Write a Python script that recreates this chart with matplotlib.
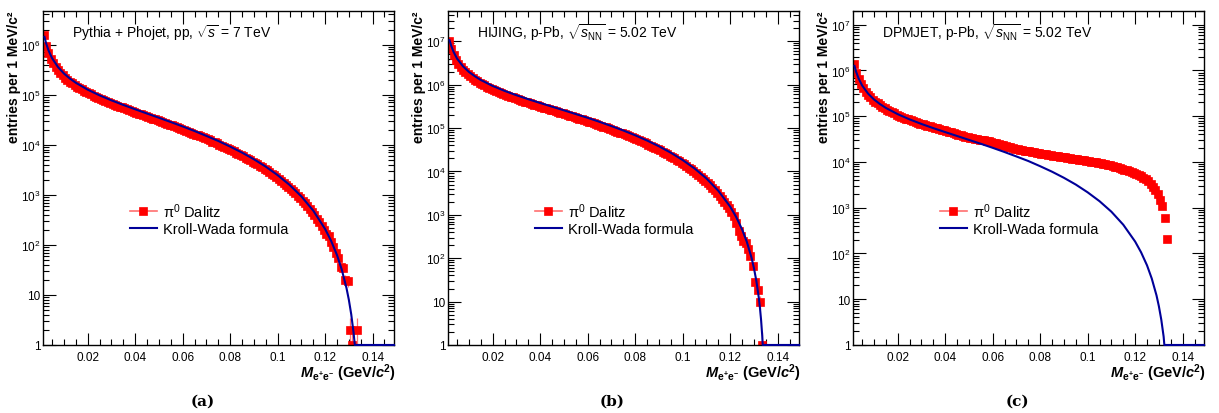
import matplotlib
matplotlib.use("Agg")
import matplotlib.pyplot as plt  # noqa: E402
import numpy as np  # noqa: E402
from matplotlib.lines import Line2D  # noqa: E402
from matplotlib.ticker import (FuncFormatter, LogLocator,  # noqa: E402
                               MultipleLocator, NullFormatter)

plt.rcParams["font.family"] = ["Liberation Sans", "DejaVu Sans"]
plt.rcParams["mathtext.fontset"] = "custom"
plt.rcParams["mathtext.rm"] = "Liberation Sans"
plt.rcParams["mathtext.it"] = "Liberation Sans:italic"
plt.rcParams["mathtext.bf"] = "Liberation Sans:bold"
plt.rcParams["mathtext.bfit"] = "Liberation Sans:italic:bold"

# 1 MeV/c^2 bins, centres 1.5 ... 133.5 MeV/c^2
bin_centres = np.arange(1.5, 134.0, 1.0) / 1000.0

# pi0 Dalitz e+e- invariant mass, entries per bin
pythia_counts = [
    1.55e6, 9.27e5, 6.68e5, 5.20e5, 4.24e5, 3.58e5, 3.10e5, 2.72e5, 2.43e5, 2.19e5,
    2.00e5, 1.83e5, 1.69e5, 1.56e5, 1.45e5, 1.36e5, 1.27e5, 1.20e5, 1.13e5, 1.07e5,
    1.01e5, 9.57e4, 9.10e4, 8.65e4, 8.24e4, 7.87e4, 7.52e4, 7.18e4, 6.87e4, 6.58e4,
    6.30e4, 6.03e4, 5.78e4, 5.55e4, 5.33e4, 5.12e4, 4.91e4, 4.72e4, 4.54e4, 4.37e4,
    4.20e4, 4.04e4, 3.88e4, 3.73e4, 3.59e4, 3.45e4, 3.33e4, 3.20e4, 3.08e4, 2.95e4,
    2.84e4, 2.73e4, 2.62e4, 2.52e4, 2.43e4, 2.33e4, 2.24e4, 2.15e4, 2.06e4, 1.98e4,
    1.90e4, 1.82e4, 1.74e4, 1.67e4, 1.60e4, 1.53e4, 1.47e4, 1.40e4, 1.34e4, 1.28e4,
    1.22e4, 1.16e4, 1.11e4, 1.06e4, 1.01e4, 9.59e3, 9.12e3, 8.65e3, 8.22e3, 7.80e3,
    7.38e3, 6.98e3, 6.61e3, 6.24e3, 5.89e3, 5.55e3, 5.22e3, 4.91e3, 4.61e3, 4.33e3,
    4.05e3, 3.78e3, 3.53e3, 3.29e3, 3.06e3, 2.84e3, 2.63e3, 2.43e3, 2.24e3, 2.07e3,
    1.90e3, 1.74e3, 1.58e3, 1.45e3, 1.31e3, 1.19e3, 1.07e3, 959, 857, 762,
    675, 594, 520, 453, 391, 335, 284, 239, 199, 163,
    150, 115, 90, 68, 55, 36, 34, 20, 19, 2, 1, 0, 2,
]
hijing_counts = [
    1.00e7, 6.56e6, 4.73e6, 3.68e6, 3.00e6, 2.53e6, 2.19e6, 1.93e6, 1.72e6, 1.55e6,
    1.42e6, 1.30e6, 1.20e6, 1.10e6, 1.03e6, 9.63e5, 8.99e5, 8.50e5, 8.00e5, 7.58e5,
    7.15e5, 6.78e5, 6.44e5, 6.12e5, 5.83e5, 5.57e5, 5.32e5, 5.08e5, 4.86e5, 4.66e5,
    4.46e5, 4.27e5, 4.09e5, 3.93e5, 3.77e5, 3.62e5, 3.48e5, 3.34e5, 3.21e5, 3.09e5,
    2.97e5, 2.86e5, 2.75e5, 2.64e5, 2.54e5, 2.44e5, 2.36e5, 2.27e5, 2.18e5, 2.09e5,
    2.01e5, 1.93e5, 1.85e5, 1.78e5, 1.72e5, 1.65e5, 1.59e5, 1.52e5, 1.46e5, 1.40e5,
    1.35e5, 1.29e5, 1.23e5, 1.18e5, 1.13e5, 1.08e5, 1.04e5, 9.91e4, 9.49e4, 9.06e4,
    8.64e4, 8.21e4, 7.86e4, 7.50e4, 7.15e4, 6.79e4, 6.46e4, 6.12e4, 5.82e4, 5.52e4,
    5.23e4, 4.94e4, 4.68e4, 4.42e4, 4.17e4, 3.93e4, 3.70e4, 3.48e4, 3.26e4, 3.07e4,
    2.87e4, 2.68e4, 2.50e4, 2.33e4, 2.17e4, 2.01e4, 1.86e4, 1.72e4, 1.59e4, 1.47e4,
    1.35e4, 1.23e4, 1.12e4, 1.03e4, 9.27e3, 8.43e3, 7.58e3, 6.79e3, 6.07e3, 5.39e3,
    4.78e3, 4.21e3, 3.68e3, 3.21e3, 2.77e3, 2.37e3, 2.01e3, 1.69e3, 1.41e3, 1.15e3,
    940, 650, 430, 330, 250, 230, 160, 112, 66, 28, 19, 10, 1,
]
dpmjet_counts = [
    1.41e6, 8.91e5, 6.46e5, 5.01e5, 4.07e5, 3.43e5, 2.95e5, 2.60e5, 2.32e5, 2.09e5,
    1.91e5, 1.74e5, 1.60e5, 1.48e5, 1.38e5, 1.29e5, 1.22e5, 1.15e5, 1.08e5, 1.02e5,
    9.77e4, 9.33e4, 8.91e4, 8.51e4, 8.13e4, 7.76e4, 7.50e4, 7.24e4, 6.92e4, 6.68e4,
    6.46e4, 6.24e4, 6.03e4, 5.82e4, 5.62e4, 5.43e4, 5.25e4, 5.07e4, 4.90e4, 4.73e4,
    4.57e4, 4.42e4, 4.27e4, 4.12e4, 3.98e4, 3.85e4, 3.72e4, 3.59e4, 3.47e4, 3.39e4,
    3.31e4, 3.24e4, 3.16e4, 3.09e4, 3.02e4, 2.95e4, 2.88e4, 2.82e4, 2.75e4, 2.66e4,
    2.57e4, 2.48e4, 2.40e4, 2.32e4, 2.24e4, 2.16e4, 2.09e4, 2.02e4, 1.95e4, 1.91e4,
    1.86e4, 1.82e4, 1.78e4, 1.74e4, 1.70e4, 1.66e4, 1.62e4, 1.58e4, 1.55e4, 1.51e4,
    1.48e4, 1.46e4, 1.43e4, 1.40e4, 1.38e4, 1.35e4, 1.32e4, 1.30e4, 1.29e4, 1.26e4,
    1.23e4, 1.22e4, 1.19e4, 1.17e4, 1.15e4, 1.12e4, 1.11e4, 1.08e4, 1.07e4, 1.05e4,
    1.02e4, 1.00e4, 9.77e3, 9.55e3, 9.33e3, 9.12e3, 8.91e3, 8.71e3, 8.41e3, 8.13e3,
    7.85e3, 7.59e3, 7.33e3, 7.08e3, 6.76e3, 6.53e3, 6.31e3, 6.03e3, 5.75e3, 5.50e3,
    5.19e3, 4.90e3, 4.57e3, 4.17e3, 3.76e3, 3.31e3, 2.88e3, 2.45e3, 2.00e3, 1.45e3,
    1.07e3, 600, 210,
]

# Kroll-Wada expectation, sampled along the mass axis (GeV/c^2)
kw_mass_pp = [0.0018, 0.0025, 0.0035, 0.005, 0.0075, 0.010, 0.0125, 0.015,
              0.020, 0.025, 0.030, 0.035, 0.040, 0.045, 0.050, 0.055, 0.060,
              0.065, 0.070, 0.075, 0.080, 0.085, 0.090, 0.095, 0.100, 0.105,
              0.110, 0.115, 0.120, 0.1225, 0.125, 0.127, 0.129, 0.130, 0.131,
              0.132, 0.1325, 0.149]
kw_pythia = [1.43e6, 1.06e6, 7.67e5, 5.36e5, 3.56e5, 2.65e5, 2.10e5, 1.73e5,
             1.26e5, 9.70e4, 7.71e4, 6.24e4, 5.11e4, 4.20e4, 3.46e4, 2.84e4, 2.32e4,
             1.88e4, 1.50e4, 1.19e4, 9.18e3, 6.97e3, 5.13e3, 3.65e3, 2.47e3, 1.58e3,
             929, 483, 207, 121, 62.5, 32.2, 13.7, 7.96, 4.08,
             1.73, 1.0, 1.0]
kw_mass_hijing = [0.0018, 0.0025, 0.0035, 0.005, 0.0075, 0.010, 0.0125, 0.015,
                  0.020, 0.025, 0.030, 0.035, 0.040, 0.045, 0.050, 0.055, 0.060,
                  0.065, 0.070, 0.075, 0.080, 0.085, 0.090, 0.095, 0.100, 0.105,
                  0.110, 0.115, 0.120, 0.1225, 0.125, 0.127, 0.129, 0.130, 0.131,
                  0.132, 0.1325, 0.133, 0.1335, 0.1337, 0.149]
kw_hijing = [1.06e7, 7.89e6, 5.69e6, 3.97e6, 2.64e6, 1.96e6, 1.56e6, 1.28e6,
             9.33e5, 7.19e5, 5.71e5, 4.62e5, 3.78e5, 3.11e5, 2.56e5, 2.10e5, 1.72e5,
             1.39e5, 1.11e5, 8.79e4, 6.81e4, 5.16e4, 3.80e4, 2.70e4, 1.83e4, 1.17e4,
             6.89e3, 3.58e3, 1.54e3, 897, 463, 239, 102, 59.0, 30.3,
             12.8, 7.45, 3.82, 1.61, 1.0, 1.0]
kw_mass_dpmjet = [0.0018, 0.0025, 0.0035, 0.005, 0.0075, 0.010, 0.0125, 0.015,
                  0.020, 0.025, 0.030, 0.035, 0.040, 0.045, 0.050, 0.055, 0.060,
                  0.065, 0.070, 0.075, 0.080, 0.085, 0.090, 0.095, 0.100, 0.105,
                  0.110, 0.115, 0.120, 0.1225, 0.125, 0.127, 0.129, 0.130, 0.131,
                  0.132, 0.1323, 0.149]
kw_dpmjet = [1.26e6, 9.33e5, 6.75e5, 4.72e5, 3.13e5, 2.33e5, 1.85e5, 1.52e5,
             1.11e5, 8.54e4, 6.78e4, 5.49e4, 4.50e4, 3.70e4, 3.04e4, 2.50e4, 2.04e4,
             1.65e4, 1.32e4, 1.05e4, 8.08e3, 6.13e3, 4.51e3, 3.21e3, 2.17e3, 1.39e3,
             818, 425, 182, 106, 55.0, 28.3, 12.1, 7.00, 3.59,
             1.52, 1.0, 1.0]

panel_titles = [
    r"Pythia + Phojet, pp, $\sqrt{s}$ = 7 TeV",
    r"HIJING, p-Pb, $\sqrt{s_{\rm NN}}$ = 5.02 TeV",
    r"DPMJET, p-Pb, $\sqrt{s_{\rm NN}}$ = 5.02 TeV",
]
panel_captions = ["(a)", "(b)", "(c)"]
y_tops = [4.7e6, 5.0e7, 2.0e7]

RED = "#ff0000"
ERR = "#ff7070"
BLUE = "#000099"


def decade_label(v, pos):
    if abs(v - 1) < 1e-9:
        return "1"
    if abs(v - 10) < 1e-9:
        return "10"
    return r"$10^{%d}$" % round(np.log10(v))


def draw_panel(ax, counts, kw_mass, kw_counts, ytop, title):
    counts = np.asarray(counts, dtype=float)
    filled = counts > 0
    ax.errorbar(bin_centres[filled], counts[filled],
                yerr=np.sqrt(counts[filled]), xerr=0.0005,
                fmt="s", ms=5.2, mew=0.5, mfc=RED, mec=RED, ecolor=ERR,
                elinewidth=0.9, capsize=0, zorder=2)
    ax.plot(kw_mass, kw_counts, color=BLUE, lw=1.5, zorder=3, clip_on=False)

    ax.set_yscale("log")
    ax.set_xlim(0.0013, 0.149)
    ax.set_ylim(1, ytop)

    ax.xaxis.set_major_locator(MultipleLocator(0.02))
    ax.xaxis.set_minor_locator(MultipleLocator(0.005))
    ax.xaxis.set_major_formatter(FuncFormatter(lambda v, p: "%g" % round(v, 3)))
    ax.yaxis.set_major_locator(LogLocator(base=10, numticks=20))
    ax.yaxis.set_minor_locator(LogLocator(base=10, subs=np.arange(2, 10), numticks=20))
    ax.yaxis.set_major_formatter(FuncFormatter(decade_label))
    ax.yaxis.set_minor_formatter(NullFormatter())
    ax.tick_params(which="both", direction="in", top=True, right=True,
                   labelsize=8.5, width=0.8)
    ax.tick_params(which="major", length=9)
    ax.tick_params(axis="y", which="major", pad=2)
    ax.tick_params(axis="x", which="major", pad=4)
    ax.tick_params(which="minor", length=4.5)
    for sp in ax.spines.values():
        sp.set_linewidth(1.0)

    ax.set_ylabel("entries per 1 MeV/c\u00b2", fontsize=10,
                  fontweight="bold", loc="top")
    ax.yaxis.set_label_coords(-0.063, 1.0)
    ax.set_xlabel(r"$\mathbfit{M}_{\mathbf{e^{+}e^{-}}}\ \mathbf{(GeV/}"
                  r"\mathbfit{c}^{\mathbf{2}}\mathbf{)}$",
                  fontsize=10.5, loc="right")
    ax.xaxis.set_label_coords(1.005, -0.05)

    ax.text(0.082, 0.937, title, transform=ax.transAxes, fontsize=10,
            va="center", ha="left")

    handles = [
        Line2D([0], [0], color=ERR, lw=1.2, marker="s", ms=5.4, mew=0.5,
               mfc=RED, mec=RED),
        Line2D([0], [0], color=BLUE, lw=1.5),
    ]
    ax.legend(handles, ["\u03c0$^{0}$ Dalitz", "Kroll-Wada formula"],
              loc="center left", bbox_to_anchor=(0.247, 0.379),
              frameon=False, fontsize=10.5, handlelength=1.85,
              handletextpad=0.4, labelspacing=0.15,
              borderpad=0, borderaxespad=0)


fig = plt.figure(figsize=(12.19, 4.14), dpi=100)
lefts = [0.0355, 0.3678, 0.7000]
caption_x = [0.1665, 0.502, 0.835]
samples = [
    (pythia_counts, kw_mass_pp, kw_pythia),
    (hijing_counts, kw_mass_hijing, kw_hijing),
    (dpmjet_counts, kw_mass_dpmjet, kw_dpmjet),
]
for i, (counts, kw_m, kw_c) in enumerate(samples):
    ax = fig.add_axes([lefts[i], 0.1643, 0.2877, 0.8068])
    draw_panel(ax, counts, kw_m, kw_c, y_tops[i], panel_titles[i])
    fig.text(caption_x[i], 0.029, panel_captions[i], ha="center", va="center",
             fontsize=11, fontweight="bold", family="DejaVu Serif")

fig.savefig("out.png", dpi=100)
